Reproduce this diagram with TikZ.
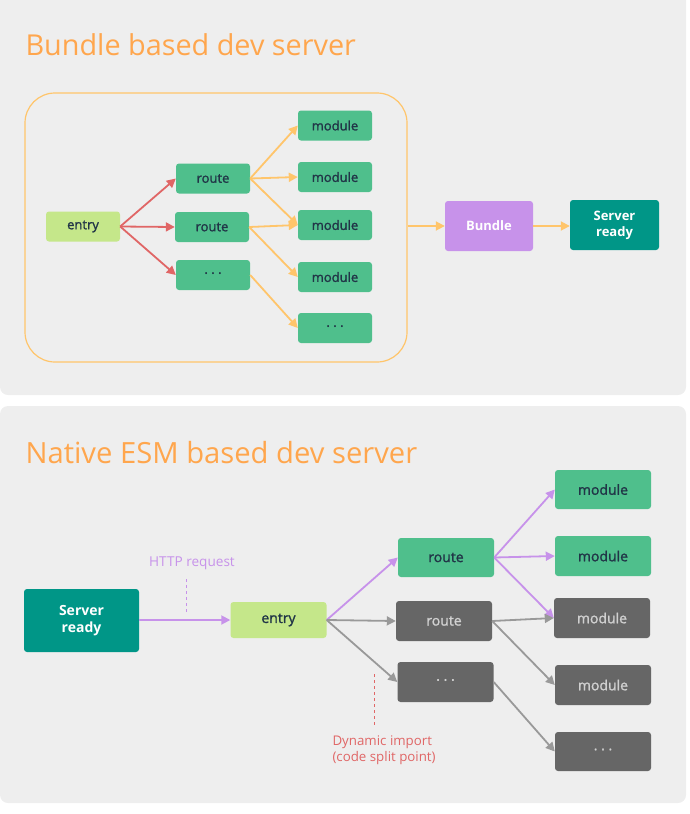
\documentclass[tikz,border=0pt]{standalone}
\usepackage{fontspec}
\setmainfont{Open Sans}
\newfontfamily\semifont{Open Sans}[FakeBold=1.4]
\usetikzlibrary{arrows.meta}

\definecolor{panelgray}{HTML}{EEEEEE}
\definecolor{titleorange}{HTML}{FFA64D}
\definecolor{lineorange}{HTML}{FFC56B}
\definecolor{arrowred}{HTML}{E06666}
\definecolor{vgreen}{HTML}{4FBF8C}
\definecolor{lightgreen}{HTML}{C5E78A}
\definecolor{vteal}{HTML}{009687}
\definecolor{vpurple}{HTML}{C792EA}
\definecolor{darkgray}{HTML}{666666}
\definecolor{arrowgray}{HTML}{999999}
\definecolor{vtext}{HTML}{213547}
\definecolor{graytext}{HTML}{D0D0D0}

\begin{document}
\begin{tikzpicture}[x=1pt, y=-1pt,
    box/.style={rectangle, rounded corners=3pt, inner sep=0pt, font=\fontsize{13}{15}\semifont},
    greenbox/.style={box, fill=vgreen, text=vtext},
    entrybox/.style={box, fill=lightgreen, text=vtext},
    graybox/.style={box, fill=darkgray, text=graytext},
    readybox/.style={box, fill=vteal, text=white, align=center, font=\fontsize{13}{16}\selectfont\bfseries},
    small/.style={minimum width=74pt, minimum height=30pt},
    big/.style={minimum width=96pt, minimum height=40pt, font=\fontsize{14}{16}\semifont},
    title/.style={anchor=base west, text=titleorange},
    arr/.style={line width=1.8pt, -{Triangle[length=9pt, width=9pt]}}]
    \useasboundingbox (0,0) rectangle (690,814);

    % panels
    \fill[panelgray, rounded corners=8pt] (0,-10) rectangle (686,395);
    \fill[panelgray, rounded corners=8pt] (0,406) rectangle (686,803);

    \node[title, font=\fontsize{28.8}{32}\selectfont] (t1) at (22,55) {Bundle based dev server};
    \node[title, font=\fontsize{29.2}{32}\selectfont] (t2) at (22,463) {Native ESM based dev server};

    % bundle based
    \node (frame) at (216,227.5) [draw=lineorange, line width=1.2pt, rounded corners=30pt, minimum width=382pt, minimum height=269pt] {};

    \node (e1) at (83,226.5) [entrybox, small] {entry};

    \node (r1) at (213,178.5) [greenbox, small] {route};
    \draw[arr, arrowred] (e1.east) -- (r1.west);

    \node (r2) at (212,227) [greenbox, small] {route};
    \draw[arr, arrowred] (e1.east) -- (r2.west);

    \node (r3) at (213,275) [greenbox, small] {· · ·};
    \draw[arr, arrowred] (e1.east) -- (r3.west);

    \node (m1) at (335,125.5) [greenbox, small] {module};
    \draw[arr, lineorange] (r1.east) -- (m1.west);

    \node (m2) at (335,177) [greenbox, small] {module};
    \draw[arr, lineorange] (r1.east) -- (m2.west);

    \node (m3) at (335,225) [greenbox, small] {module};
    \draw[arr, lineorange] (r1.east) -- (m3.west);
    \draw[arr, lineorange] (r2.east) -- (m3.west);

    \node (m4) at (335,277) [greenbox, small] {module};
    \draw[arr, lineorange] (r2.east) -- (m4.west);

    \node (m5) at (335,328) [greenbox, small] {· · ·};
    \draw[arr, lineorange] (r3.east) -- (m5.west);

    \node (b1) at (489,226) [box, fill=vpurple, text=white, minimum width=88pt, minimum height=50pt, font=\fontsize{13}{15}\selectfont\bfseries] {Bundle};
    \draw[arr, lineorange] (frame.east |- b1.west) -- (b1.west);

    \node (s1) at (614.5,225) [readybox, minimum width=89pt, minimum height=50pt] {Server\\ready};
    \draw[arr, lineorange] (b1.east) -- (s1.west |- b1.east);

    % native ESM
    \node (s2) at (81.5,620.5) [readybox, minimum width=115pt, minimum height=63pt, font=\fontsize{14}{17}\selectfont\bfseries] {Server\\ready};

    \node (e2) at (278.5,620) [entrybox, big, minimum height=36pt] {entry};
    \draw[arr, vpurple] (s2.east |- e2.west) -- (e2.west);

    \node (h1) at (192,563) [text=vpurple, font=\fontsize{13.6}{16}\selectfont] {HTTP request};
    \coordinate (h2) at (186,579);
    \coordinate (h3) at (186,614);
    \draw[vpurple, dash pattern=on 3pt off 3pt, line width=1pt] (h2) -- (h3);

    \node (r4) at (446,557.5) [greenbox, big, minimum height=39pt] {route};
    \draw[arr, vpurple] (e2.east) -- (r4.west);

    \node (r5) at (444,621) [graybox, big] {route};
    \draw[arr, arrowgray] (e2.east) -- (r5.west);

    \node (r6) at (445.5,682) [graybox, big] {· · ·};
    \draw[arr, arrowgray] (e2.east) -- (r6.west);

    \node (m6) at (603,489.5) [greenbox, big, minimum height=39pt] {module};
    \draw[arr, vpurple] (r4.east) -- (m6.west);

    \node (m7) at (603,556) [greenbox, big] {module};
    \draw[arr, vpurple] (r4.east) -- (m7.west);

    \node (m8) at (602,618) [graybox, big] {module};
    \draw[arr, vpurple] (r4.east) -- (m8.west);
    \draw[arr, arrowgray] (r5.east) -- (m8.west);

    \node (m9) at (603,685) [graybox, big] {module};
    \draw[arr, arrowgray] (r5.east) -- (m9.west);

    \node (m10) at (603,751.5) [graybox, big, minimum height=39pt] {· · ·};
    \draw[arr, arrowgray] (r6.east) -- (m10.west);

    \node (d1) at (329,750) [anchor=west, align=left, text=arrowred, font=\fontsize{13.3}{16}\selectfont] {Dynamic import\\(code split point)};
    \coordinate (d2) at (374,674);
    \coordinate (d3) at (374,727);
    \draw[arrowred, dash pattern=on 3pt off 3pt, line width=1pt] (d2) -- (d3);
\end{tikzpicture}
\end{document}
